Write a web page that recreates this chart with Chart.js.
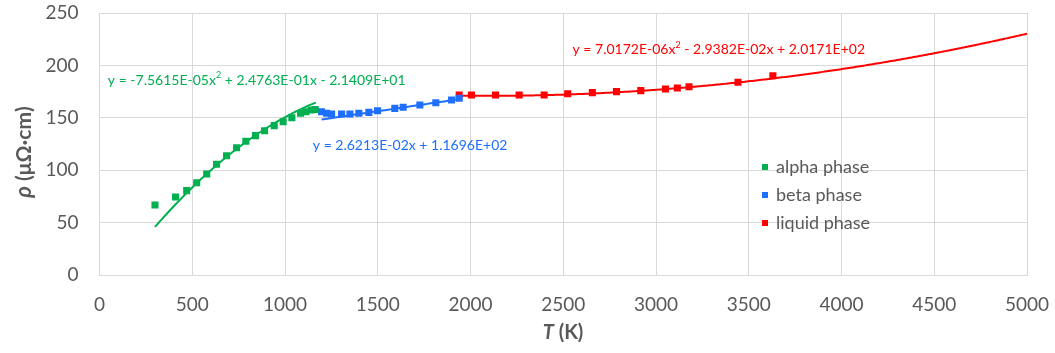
<!DOCTYPE html>
<html>
<head>
<meta charset="utf-8">
<script src="https://cdn.jsdelivr.net/npm/chart.js@4/dist/chart.umd.min.js"></script>
<style>
  html, body { margin: 0; padding: 0; background: #fff; }
  #wrap { width: 1055px; height: 353px; position: relative; }
</style>
</head>
<body>
<div id="wrap"><canvas id="rhoChart" width="1055" height="353"></canvas></div>
<script>
const alphaT   = [299, 410, 470, 524, 578, 631, 685, 739, 789, 841, 890, 942, 990, 1037, 1084, 1113, 1141, 1163];
const alphaRho = [66.8, 74.5, 80.5, 88, 96.4, 105.6, 113.8, 121.5, 127.6, 133, 137.7, 142.5, 146.3, 150, 154.3, 155.8, 157.4, 158];

const betaT   = [1197, 1224, 1251, 1305, 1350, 1398, 1452, 1499, 1592, 1637, 1727, 1813, 1898, 1939];
const betaRho = [155.8, 154.3, 153.6, 153.6, 153.6, 154.3, 155.2, 156.8, 159, 160, 162.2, 164.4, 167, 168.6];

const liquidT   = [1939, 2005, 2135, 2262, 2397, 2524, 2657, 2787, 2918, 3051, 3115, 3178, 3442, 3630];
const liquidRho = [171.8, 171.8, 171.8, 171.8, 171.8, 173, 174, 175, 175.9, 177.5, 178.4, 179.7, 183.9, 190.2];

// trendline coefficients as printed on the chart [a2, a1, a0]
const alphaFit  = [-7.5615E-05, 2.4763E-01, -2.1409E+01];
const betaFit   = [0, 2.6213E-02, 1.1696E+02];
const liquidFit = [7.0172E-06, -2.9382E-02, 2.0171E+02];
const alphaFitRange  = [299, 1166];
const betaFitRange   = [1197, 1930];
const liquidFitRange = [1939, 5000];

const xTicks = [0, 500, 1000, 1500, 2000, 2500, 3000, 3500, 4000, 4500, 5000];
const yTicks = [0, 50, 100, 150, 200, 250];

const GREEN = '#00B050', BLUE = '#1F6FFF', RED = '#FF0000';
const GREY = '#595959', GRID = '#D9D9D9';
const FONT = 'Lato, "Open Sans", sans-serif';

function pts(xs, ys) { return xs.map((x, i) => ({ x: x, y: ys[i] })); }

// trendline drawn from the printed equation, like the spreadsheet does
function trend(c, range) {
    const out = [];
    for (let x = range[0]; x < range[1]; x += 10) out.push({ x: x, y: c[0]*x*x + c[1]*x + c[2] });
    const x = range[1];
    out.push({ x: x, y: c[0]*x*x + c[1]*x + c[2] });
    return out;
}

function lineSet(data, color) {
    return { data: data, showLine: true, borderColor: color, borderWidth: 2, pointRadius: 0, fill: false, tension: 0 };
}
function pointSet(label, data, color) {
    return { label: label, data: data, showLine: false, pointStyle: 'rect', pointRadius: 5, pointHoverRadius: 5,
             backgroundColor: color, borderColor: color, borderWidth: 0 };
}

// equation labels, anchored in data units
const equations = [
    { parts: ['y = -7.5615E-05x', '2', ' + 2.4763E-01x - 2.1409E+01'], at: [45, 186], color: GREEN },
    { parts: ['y = 2.6213E-02x + 1.1696E+02'], at: [1150, 124], color: BLUE },
    { parts: ['y = 7.0172E-06x', '2', ' - 2.9382E-02x + 2.0171E+02'], at: [2550, 215], color: RED }
];

const decorations = {
    id: 'decorations',
    afterDatasetsDraw(chart) {
        const ctx = chart.ctx, xs = chart.scales.x, ys = chart.scales.y;
        ctx.save();
        // equations
        ctx.textBaseline = 'middle';
        equations.forEach(eq => {
            let px = xs.getPixelForValue(eq.at[0]);
            const py = ys.getPixelForValue(eq.at[1]);
            ctx.fillStyle = eq.color;
            eq.parts.forEach((p, i) => {
                const sup = eq.parts.length > 1 && i === 1;
                ctx.font = (sup ? '9px ' : '14px ') + FONT;
                ctx.fillText(p, px, sup ? py - 5 : py);
                px += ctx.measureText(p).width;
            });
        });

        // legend inside plot
        const items = [['alpha phase', GREEN], ['beta phase', BLUE], ['liquid phase', RED]];
        ctx.font = '18px ' + FONT;
        items.forEach((it, i) => {
            const y = 167 + i * 28;
            ctx.fillStyle = it[1];
            ctx.fillRect(762, y - 3, 6, 6);
            ctx.fillStyle = GREY;
            ctx.fillText(it[0], 776, y);
        });

        // axis titles with italic symbols
        ctx.fillStyle = GREY;
        ctx.textBaseline = 'middle';
        const xt1 = 'T', xt2 = ' (K)';
        ctx.font = 'italic bold 20px ' + FONT;
        const w1 = ctx.measureText(xt1).width;
        ctx.font = 'bold 20px ' + FONT;
        const w2 = ctx.measureText(xt2).width;
        let sx = 563 - (w1 + w2) / 2;
        ctx.font = 'italic bold 20px ' + FONT;
        ctx.fillText(xt1, sx, 333);
        ctx.font = 'bold 20px ' + FONT;
        ctx.fillText(xt2, sx + w1, 333);

        ctx.translate(24, 152);
        ctx.rotate(-Math.PI / 2);
        const yt1 = 'ρ', yt2 = ' (μΩ·cm)';
        ctx.font = 'italic bold 22px ' + FONT;
        const v1 = ctx.measureText(yt1).width;
        ctx.font = 'bold 21px ' + FONT;
        const v2 = ctx.measureText(yt2).width;
        sx = -(v1 + v2) / 2;
        ctx.font = 'italic bold 22px ' + FONT;
        ctx.fillText(yt1, sx, 0);
        ctx.font = 'bold 21px ' + FONT;
        ctx.fillText(yt2, sx + v1, 0);
        ctx.restore();
    }
};

const ctx = document.getElementById('rhoChart').getContext('2d');
const rhoChart = new Chart(ctx, {
    type: 'scatter',
    data: {
        datasets: [
            pointSet('alpha phase', pts(alphaT, alphaRho), GREEN),
            pointSet('beta phase', pts(betaT, betaRho), BLUE),
            pointSet('liquid phase', pts(liquidT, liquidRho), RED),
            lineSet(trend(alphaFit, alphaFitRange), GREEN),
            lineSet(trend(betaFit, betaFitRange), BLUE),
            lineSet(trend(liquidFit, liquidFitRange), RED)
        ]
    },
    options: {
        responsive: false,
        animation: false,
        layout: { padding: { top: 13, right: 28, left: 0, bottom: 0 }, autoPadding: false },
        scales: {
            x: {
                type: 'linear', min: 0, max: 5000,
                afterBuildTicks: s => { s.ticks = xTicks.map(v => ({ value: v })); },
                afterFit: s => { s.height = 78; s.paddingLeft = 0; s.paddingRight = 0; },
                grid: { color: GRID, drawTicks: false },
                border: { color: GRID },
                ticks: { color: GREY, font: { family: FONT, size: 19 }, padding: 18, maxRotation: 0,
                         callback: v => String(v) }
            },
            y: {
                type: 'linear', min: 0, max: 250,
                afterBuildTicks: s => { s.ticks = yTicks.map(v => ({ value: v })); },
                afterFit: s => { s.width = 99.5; s.paddingTop = 0; s.paddingBottom = 0; },
                grid: { color: GRID, drawTicks: false },
                border: { color: GRID },
                ticks: { color: GREY, font: { family: FONT, size: 19 }, padding: 21,
                         callback: v => String(v) }
            }
        },
        plugins: {
            legend: { display: false },
            tooltip: { enabled: false }
        }
    },
    plugins: [decorations]
});
</script>
</body>
</html>
